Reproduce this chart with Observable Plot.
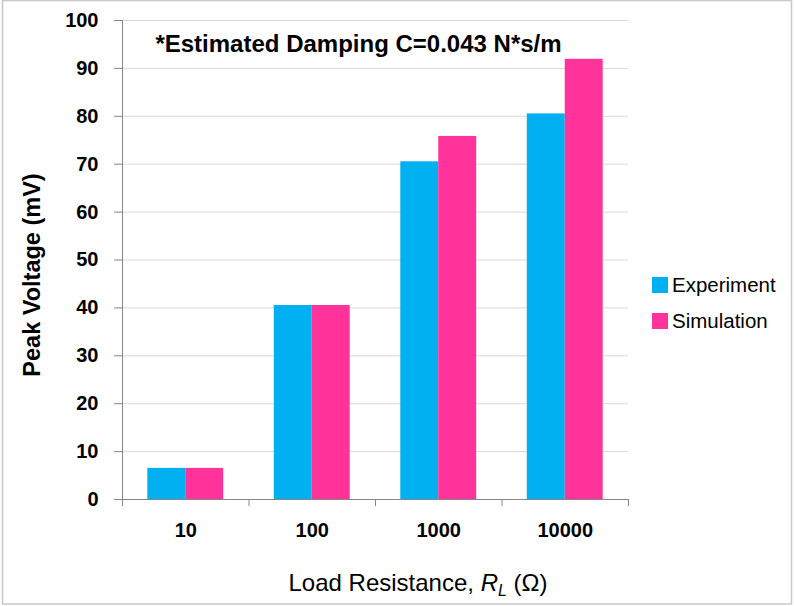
<!DOCTYPE html>
<html>
<head>
<meta charset="utf-8">
<script src="https://cdn.jsdelivr.net/npm/d3@7"></script>
<script src="https://cdn.jsdelivr.net/npm/@observablehq/plot@0.6"></script>
<style>
  html, body { margin: 0; padding: 0; background: #fff; }
  #chart svg { display: block; }
  #chart [aria-label="y-axis tick"], #chart [aria-label="x-axis tick"] { stroke: #868686; }
</style>
</head>
<body>
<div id="chart"></div>
<script>
// ---- data ----
const categories = ["10", "100", "1000", "10000"];
const seriesNames = ["Experiment", "Simulation"];
const experiment = [6.5, 40.5, 70.5, 80.5];
const simulation = [6.5, 40.5, 75.8, 91.9];
const seriesColors = ["#00B0F0", "#FF3399"];
const yTicks = [0, 10, 20, 30, 40, 50, 60, 70, 80, 90, 100];
const annotation = "*Estimated Damping C=0.043 N*s/m";
const yTitle = "Peak Voltage (mV)";

// ---- build table: each category occupies one unit; bars fill its central 60% ----
const groupFrac = 0.6;
const barFrac = groupFrac / seriesNames.length;
const rows = [];
categories.forEach((c, i) => {
  [experiment, simulation].forEach((vals, k) => {
    const x1 = i + (1 - groupFrac) / 2 + k * barFrac;
    rows.push({category: c, series: seriesNames[k], value: vals[i], x1, x2: x1 + barFrac});
  });
});
const catCenters = categories.map((c, i) => i + 0.5);
const catBounds = d3.range(categories.length + 1);

const font = "'Liberation Sans', Arial, sans-serif";

const plot = Plot.plot({
  width: 794,
  height: 606,
  marginLeft: 122,
  marginRight: 166,
  marginTop: 20,
  marginBottom: 107,
  style: {fontFamily: font, background: "white", color: "black"},
  x: {domain: [0, categories.length], label: null},
  y: {domain: [0, 100], label: null},
  color: {domain: seriesNames, range: seriesColors},
  marks: [
    Plot.gridY(yTicks, {stroke: "#D9D9D9", strokeOpacity: 1}),
    Plot.rectY(rows, {x1: "x1", x2: "x2", y1: 0, y2: "value", fill: "series"}),
    Plot.ruleX([0], {stroke: "#868686"}),
    Plot.ruleY([0], {stroke: "#868686"}),
    Plot.axisY(yTicks, {tickSize: 8, tickPadding: 16, fontSize: 20, fontWeight: "bold", label: null}),
    Plot.axisX(catBounds, {tickSize: 7, tickFormat: () => "", label: null}),
    Plot.axisX(catCenters, {tickSize: 0, tickPadding: 23, fontSize: 20, fontWeight: "bold",
      tickFormat: d => categories[Math.floor(d)], label: null})
  ]
});

document.getElementById("chart").appendChild(plot);

const svg = d3.select(plot);

// chart border
svg.append("rect")
  .attr("x", 2.5).attr("y", 0.5).attr("width", 789).attr("height", 603.5)
  .attr("fill", "none").attr("stroke", "#C8C8C8").attr("stroke-width", 1.5);

// annotation
svg.append("text")
  .attr("x", 358.5).attr("y", 52)
  .attr("text-anchor", "middle")
  .style("font-family", font).style("font-size", "24px").style("font-weight", "bold")
  .attr("fill", "black")
  .text(annotation);

// y title
svg.append("text")
  .attr("transform", "translate(39.5,275) rotate(-90)")
  .attr("text-anchor", "middle")
  .style("font-family", font).style("font-size", "23.5px").style("font-weight", "bold")
  .attr("fill", "black")
  .text(yTitle);

// x title with italic subscript
const xt = svg.append("text")
  .attr("x", 418).attr("y", 591)
  .attr("text-anchor", "middle")
  .style("font-family", font).style("font-size", "24px")
  .attr("fill", "black");
xt.append("tspan").text("Load Resistance, ");
xt.append("tspan").style("font-style", "italic").text("R");
xt.append("tspan").style("font-style", "italic").style("font-size", "16px").attr("dy", 5).text("L");
xt.append("tspan").attr("dy", -5).text(" (\u03A9)");

// legend
const lg = svg.append("g");
seriesNames.forEach((name, k) => {
  const y0 = 277 + k * 36;
  lg.append("rect").attr("x", 652).attr("y", y0).attr("width", 16).attr("height", 16)
    .attr("fill", seriesColors[k]);
  lg.append("text").attr("x", 672).attr("y", y0 + 15)
    .attr("text-anchor", "start")
    .style("font-family", font).style("font-size", "20.5px")
    .attr("fill", "black").text(name);
});
</script>
</body>
</html>
